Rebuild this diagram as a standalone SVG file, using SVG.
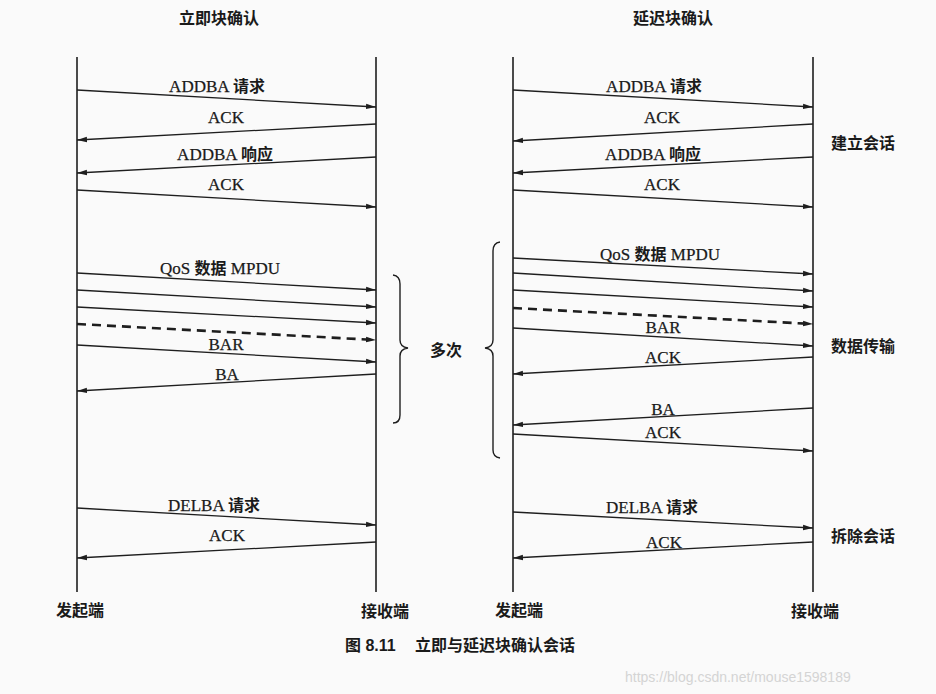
<svg xmlns="http://www.w3.org/2000/svg" width="936" height="694" viewBox="0 0 936 694">
<defs>
<style>
.ll{stroke:#1e1e1e;stroke-width:1.6;fill:none}
.m{stroke:#1e1e1e;stroke-width:1.3;fill:none;marker-end:url(#ah)}
.d{stroke:#1e1e1e;stroke-width:2.6;stroke-dasharray:9,6;fill:none;marker-end:url(#ahd)}
.br{stroke:#1e1e1e;stroke-width:1.4;fill:none}
.t{font-family:"Liberation Serif","Noto Sans CJK SC",serif;font-size:17px;fill:#1a1a1a;text-anchor:middle;stroke:#1a1a1a;stroke-width:0.25}
.b{font-family:"Noto Sans CJK SC",sans-serif;font-weight:700;font-size:16px;stroke:none}
.c{font-family:"Noto Sans CJK SC",sans-serif;font-size:16px;font-weight:700;fill:#1a1a1a}
.cap{font-family:"Liberation Sans","Noto Sans CJK SC",sans-serif;font-size:16px;font-weight:700;fill:#1a1a1a}
.wm{font-family:"Liberation Sans",sans-serif;font-size:14px;fill:#d4d4d4}
</style>
<marker id="ah" markerUnits="userSpaceOnUse" markerWidth="12" markerHeight="8" refX="10" refY="4" orient="auto"><path d="M0,1.3 L10,4 L0,6.7 Z" fill="#1e1e1e"/></marker>
<marker id="ahd" markerUnits="userSpaceOnUse" markerWidth="12" markerHeight="8" refX="10" refY="4" orient="auto"><path d="M0,1.3 L10,4 L0,6.7 Z" fill="#1e1e1e"/></marker>
</defs>
<rect width="936" height="694" fill="#fafafa"/>

<g id="title-imm"><text class="c" x="219" y="24" text-anchor="middle">立即块确认</text></g>
<g id="title-del"><text class="c" x="673" y="24" text-anchor="middle">延迟块确认</text></g>

<g id="imm-initiator"><line class="ll" x1="77" y1="57" x2="77" y2="592"/><text class="c" x="80" y="616" text-anchor="middle">发起端</text></g>
<g id="imm-receiver"><line class="ll" x1="376" y1="57" x2="376" y2="592"/><text class="c" x="385" y="617" text-anchor="middle">接收端</text></g>
<g id="del-initiator"><line class="ll" x1="513" y1="57" x2="513" y2="592"/><text class="c" x="519" y="616" text-anchor="middle">发起端</text></g>
<g id="del-receiver"><line class="ll" x1="813" y1="57" x2="813" y2="592"/><text class="c" x="815" y="617" text-anchor="middle">接收端</text></g>

<g id="imm-repeat"><path class="br" d="M393,275 Q400,276 400,284 L400,340 Q400,347 408,348 Q400,349 400,356 L400,415 Q400,423 393,423"/><text class="c" x="446" y="356" text-anchor="middle">多次</text></g>
<g id="del-brace"><path class="br" d="M500,242 Q493,243 493,251 L493,340 Q493,347 485,348 Q493,349 493,356 L493,450 Q493,457 500,458"/></g>
<g id="phase-setup"><text class="c" x="863" y="149" text-anchor="middle">建立会话</text></g>
<g id="phase-data"><text class="c" x="863" y="352" text-anchor="middle">数据传输</text></g>
<g id="phase-teardown"><text class="c" x="863" y="542" text-anchor="middle">拆除会话</text></g>

<g id="connectors">
<line class="m" x1="77" y1="90" x2="376" y2="107"/><text class="t" x="217" y="92">ADDBA <tspan class="b">请求</tspan></text>
<line class="m" x1="376" y1="124" x2="77" y2="140"/><text class="t" x="226" y="123">ACK</text>
<line class="m" x1="376" y1="157" x2="77" y2="173"/><text class="t" x="225" y="160">ADDBA <tspan class="b">响应</tspan></text>
<line class="m" x1="77" y1="190" x2="376" y2="207"/><text class="t" x="226" y="190">ACK</text>
<line class="m" x1="77" y1="273" x2="376" y2="290"/><text class="t" x="220" y="274">QoS <tspan class="b">数据</tspan> MPDU</text>
<line class="m" x1="77" y1="290" x2="376" y2="307"/>
<line class="m" x1="77" y1="307" x2="376" y2="323"/>
<line class="d" x1="77" y1="324" x2="376" y2="340"/>
<line class="m" x1="77" y1="345" x2="376" y2="362"/><text class="t" x="226" y="350">BAR</text>
<line class="m" x1="376" y1="374" x2="77" y2="391"/><text class="t" x="227" y="380">BA</text>
<line class="m" x1="77" y1="508" x2="376" y2="525"/><text class="t" x="214" y="511">DELBA <tspan class="b">请求</tspan></text>
<line class="m" x1="376" y1="542" x2="77" y2="558"/><text class="t" x="227" y="541">ACK</text>
<line class="m" x1="513" y1="90" x2="813" y2="107"/><text class="t" x="654" y="92">ADDBA <tspan class="b">请求</tspan></text>
<line class="m" x1="813" y1="124" x2="513" y2="141"/><text class="t" x="662" y="123">ACK</text>
<line class="m" x1="813" y1="157" x2="513" y2="173"/><text class="t" x="653" y="160">ADDBA <tspan class="b">响应</tspan></text>
<line class="m" x1="513" y1="190" x2="813" y2="207"/><text class="t" x="662" y="190">ACK</text>
<line class="m" x1="513" y1="258" x2="813" y2="274"/><text class="t" x="660" y="260">QoS <tspan class="b">数据</tspan> MPDU</text>
<line class="m" x1="513" y1="273" x2="813" y2="291"/>
<line class="m" x1="513" y1="290" x2="813" y2="307"/>
<line class="d" x1="513" y1="308" x2="813" y2="324"/>
<line class="m" x1="513" y1="328" x2="813" y2="346"/><text class="t" x="663" y="333">BAR</text>
<line class="m" x1="813" y1="357" x2="513" y2="374"/><text class="t" x="663" y="363">ACK</text>
<line class="m" x1="813" y1="408" x2="513" y2="425"/><text class="t" x="663" y="415">BA</text>
<line class="m" x1="513" y1="434" x2="813" y2="451"/><text class="t" x="663" y="438">ACK</text>
<line class="m" x1="513" y1="512" x2="813" y2="528"/><text class="t" x="652" y="513">DELBA <tspan class="b">请求</tspan></text>
<line class="m" x1="813" y1="542" x2="513" y2="558"/><text class="t" x="664" y="548">ACK</text>
</g>

<g id="caption"><text class="cap" x="345" y="651">图 8.11</text><text class="cap" x="415" y="651">立即与延迟块确认会话</text></g>
<g id="watermark"><text class="wm" x="625" y="682">https://blog.csdn.net/mouse1598189</text></g>
</svg>
